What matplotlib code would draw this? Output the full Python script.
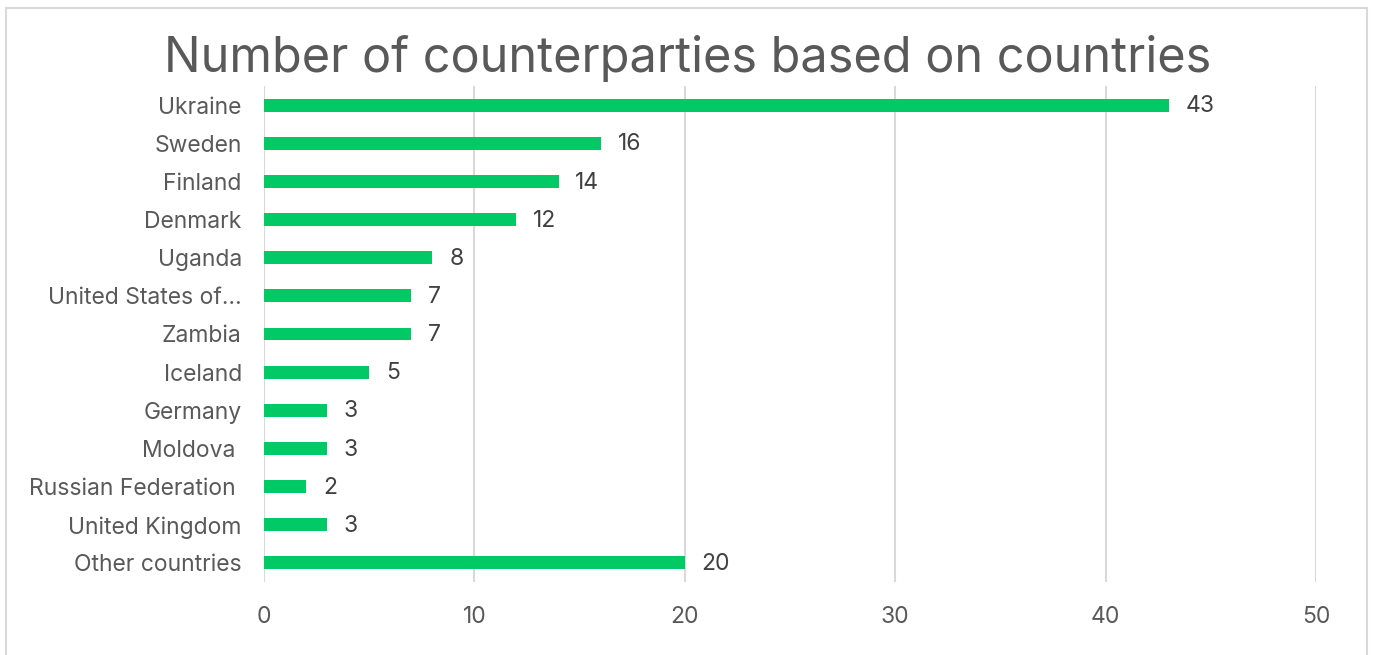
import matplotlib.pyplot as plt
from matplotlib.patches import Rectangle

countries = ['Ukraine', 'Sweden', 'Finland', 'Denmark', 'Uganda', 'United States of\u2026',
             'Zambia', 'Iceland', 'Germany', 'Moldova ', 'Russian Federation ',
             'United Kingdom', 'Other countries']
counts = [43, 16, 14, 12, 8, 7, 7, 5, 3, 3, 2, 3, 20]
ticks = [0, 10, 20, 30, 40, 50]

plt.rcParams['font.family'] = ['Inter', 'DejaVu Sans']

fig = plt.figure(figsize=(13.75, 6.55), dpi=100)
W, H = 1375, 655
# plot area in pixels: x 264..1316, y 86..582
ax = fig.add_axes([264 / W, 1 - 582 / H, (1316 - 264) / W, (582 - 86) / H])

# chart frame
fig.patches.append(Rectangle((6 / W, -0.05), (1367 - 6) / W, 1.05 - 8 / H,
                             transform=fig.transFigure, fill=False,
                             edgecolor='#d9d9d9', linewidth=1.5))

y = list(range(len(countries)))
ax.barh(y, counts, height=0.34, color='#00c965', zorder=3)
for yi, v in zip(y, counts):
    ax.text(v + 0.8, yi + 0.03, str(v), va='center', ha='left', fontsize=16.5, color='#404040')

ax.set_xlim(0, 50)
ax.set_ylim(len(countries) - 0.5, -0.5)
ax.set_xticks(ticks)
ax.set_xticklabels([str(t) for t in ticks])
ax.set_yticks(y)
ax.set_yticklabels(countries)
ax.tick_params(axis='both', length=0, labelsize=16.5, labelcolor='#595959')
ax.tick_params(axis='y', pad=16)
ax.tick_params(axis='x', pad=17)
ax.grid(axis='x', color='#d9d9d9', linewidth=1.5, zorder=0)
for s in ax.spines.values():
    s.set_visible(False)

fig.text(688 / W, 1 - 58 / H, 'Number of counterparties based on countries',
         ha='center', va='center', fontsize=35, color='#595959')

fig.savefig('out.png', dpi=100)
